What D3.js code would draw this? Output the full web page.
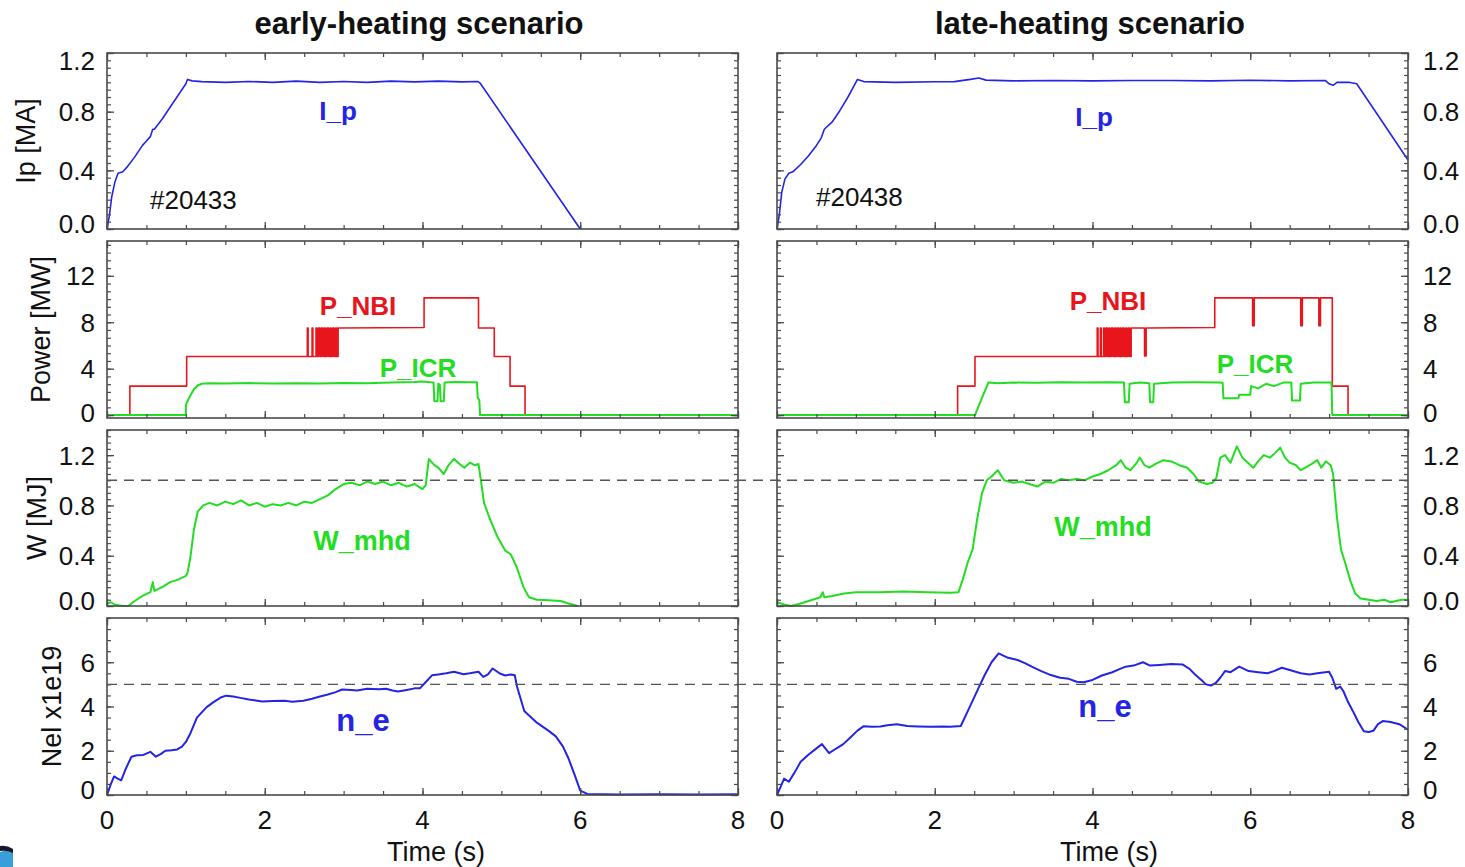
<!DOCTYPE html>
<html>
<head>
<meta charset="utf-8">
<script src="https://cdn.jsdelivr.net/npm/d3@7"></script>
<style>
  html, body { margin: 0; padding: 0; background: #fff; }
  svg { display: block; }
  text { font-family: "Liberation Sans", Arial, Helvetica, sans-serif; }
</style>
</head>
<body>
<svg id="chart" width="1465" height="867"></svg>
<script>
// ---- time base and tick labels ----
const timeDomain = [0, 8];
const timeTicks = [0, 2, 4, 6, 8];
const timeMinorStep = 0.5;

const ipTicks = [0, 0.4, 0.8, 1.2];
const powerTicks = [0, 4, 8, 12];
const wTicks = [0, 0.4, 0.8, 1.2];
const neTicks = [0, 2, 4, 6];

const scenarioTitles = ["early-heating scenario", "late-heating scenario"];
const shotNumbers = ["#20433", "#20438"];

// ---- plasma current [MA] ----
const ipEarly = [[0,0],[0.03,0.09],[0.06,0.22],[0.1,0.32],[0.14,0.38],[0.2,0.39],[0.25,0.42],[0.35,0.49],[0.45,0.57],[0.5,0.6],[0.55,0.63],[0.58,0.68],[0.6,0.68],[0.7,0.75],[0.8,0.83],[0.9,0.91],[1.0,0.99],[1.02,1.02],[1.08,1.01],[1.2,1.005],[1.5,1.0],[1.8,1.006],[2.1,1.0],[2.4,1.008],[2.7,1.0],[3.0,1.006],[3.3,1.0],[3.6,1.008],[3.9,1.003],[4.2,1.008],[4.5,1.003],[4.7,1.006],[4.73,0.995],[6.0,0.0]];
const ipLate = [[0,0],[0.03,0.1],[0.06,0.25],[0.1,0.34],[0.15,0.38],[0.2,0.39],[0.3,0.44],[0.4,0.5],[0.5,0.57],[0.56,0.62],[0.6,0.68],[0.7,0.73],[0.8,0.81],[0.9,0.9],[1.0,1.0],[1.02,1.02],[1.1,1.005],[1.5,1.0],[2.0,1.004],[2.25,1.005],[2.45,1.02],[2.56,1.03],[2.65,1.015],[3.0,1.01],[3.5,1.013],[4.0,1.01],[4.5,1.012],[5.0,1.013],[5.5,1.01],[6.0,1.014],[6.5,1.01],[6.95,1.013],[7.0,0.99],[7.05,0.98],[7.1,1.0],[7.25,1.0],[7.35,0.99],[8.0,0.47]];

// ---- heating power [MW] ----
const nbiEarly = [[0,0],[0.29,0],[0.29,2.5],[1.01,2.5],[1.01,5.05],[2.54,5.05],[2.54,7.5],[2.55,7.5],[2.55,5.05],[2.6,5.05],[2.6,7.5],[2.61,7.5],[2.61,5.05],[2.65,5.05],[2.65,7.5],[2.66,7.5],[2.66,5.05],[2.68,5.05],[2.68,7.5],[2.7,7.5],[2.7,5.05],[2.72,5.05],[2.72,7.5],[2.74,7.5],[2.74,5.05],[2.76,5.05],[2.76,7.5],[2.77,7.5],[2.77,5.05],[2.79,5.05],[2.79,7.5],[2.81,7.5],[2.81,5.05],[2.83,5.05],[2.83,7.5],[2.84,7.5],[2.84,5.05],[2.86,5.05],[2.86,7.5],[2.88,7.5],[2.88,5.05],[2.9,5.05],[2.9,7.5],[2.91,7.5],[2.91,5.05],[2.93,5.05],[2.93,7.5],[4.02,7.55],[4.02,10.1],[4.71,10.1],[4.71,7.5],[4.91,7.5],[4.91,5.05],[5.11,5.05],[5.11,2.5],[5.3,2.5],[5.3,0],[8,0]];
const icrEarly = [[0,0],[1.0,0],[1.0,0.9],[1.05,1.6],[1.1,2.2],[1.15,2.55],[1.2,2.7],[1.3,2.75],[1.5,2.72],[1.8,2.76],[2.1,2.72],[2.4,2.75],[2.7,2.73],[3.0,2.77],[3.3,2.75],[3.6,2.8],[3.9,2.85],[4.0,2.9],[4.1,2.82],[4.14,2.8],[4.15,1.2],[4.19,1.2],[4.2,2.7],[4.22,2.6],[4.23,1.2],[4.27,1.2],[4.28,2.8],[4.4,2.85],[4.6,2.82],[4.69,2.82],[4.7,1.5],[4.72,1.3],[4.73,0],[8,0]];
const nbiLate = [[0,0],[2.29,0],[2.29,2.5],[2.51,2.5],[2.51,5.05],[4.06,5.05],[4.06,7.5],[4.07,7.5],[4.07,5.05],[4.1,5.05],[4.1,7.5],[4.11,7.5],[4.11,5.05],[4.14,5.05],[4.14,7.5],[4.15,7.5],[4.15,5.05],[4.17,5.05],[4.17,7.5],[4.19,7.5],[4.19,5.05],[4.21,5.05],[4.21,7.5],[4.22,7.5],[4.22,5.05],[4.24,5.05],[4.24,7.5],[4.26,7.5],[4.26,5.05],[4.28,5.05],[4.28,7.5],[4.29,7.5],[4.29,5.05],[4.31,5.05],[4.31,7.5],[4.33,7.5],[4.33,5.05],[4.35,5.05],[4.35,7.5],[4.36,7.5],[4.36,5.05],[4.38,5.05],[4.38,7.5],[4.4,7.5],[4.4,5.05],[4.42,5.05],[4.42,7.5],[4.43,7.5],[4.43,5.05],[4.45,5.05],[4.45,7.5],[4.47,7.5],[4.47,5.05],[4.49,5.05],[4.49,7.5],[4.66,7.5],[4.66,5.1],[4.68,5.1],[4.68,7.5],[5.55,7.55],[5.55,10.1],[6.03,10.1],[6.03,7.7],[6.05,7.7],[6.05,10.1],[6.64,10.1],[6.64,7.7],[6.66,7.7],[6.66,10.1],[6.87,10.1],[6.87,7.7],[6.89,7.7],[6.89,10.1],[7.04,10.1],[7.04,2.5],[7.24,2.5],[7.24,0],[8,0]];
const icrLate = [[0,0],[2.51,0],[2.6,1.5],[2.68,2.8],[2.8,2.75],[3.0,2.8],[3.3,2.78],[3.6,2.82],[3.9,2.8],[4.2,2.82],[4.4,2.8],[4.41,1.1],[4.46,1.1],[4.47,2.7],[4.6,2.8],[4.72,2.75],[4.73,1.1],[4.77,1.1],[4.78,2.7],[5.0,2.8],[5.3,2.82],[5.6,2.8],[5.65,2.78],[5.66,1.45],[5.85,1.45],[5.86,1.75],[6.0,1.75],[6.01,2.5],[6.1,2.3],[6.2,2.7],[6.3,2.5],[6.42,2.8],[6.52,2.8],[6.53,1.25],[6.63,1.25],[6.64,2.7],[6.8,2.8],[7.03,2.8],[7.04,0],[8,0]];

// ---- stored energy [MJ] ----
const wEarly = [[0,0.02],[0.05,0.03],[0.1,0.01],[0.2,0.0],[0.27,0.0],[0.35,0.04],[0.45,0.08],[0.55,0.11],[0.58,0.19],[0.6,0.12],[0.7,0.15],[0.8,0.19],[0.9,0.21],[1.0,0.24],[1.02,0.26],[1.06,0.4],[1.1,0.6],[1.15,0.75],[1.22,0.8],[1.3,0.82],[1.4,0.8],[1.5,0.83],[1.6,0.81],[1.7,0.84],[1.8,0.8],[1.9,0.82],[2.0,0.79],[2.1,0.81],[2.2,0.8],[2.3,0.82],[2.4,0.8],[2.5,0.83],[2.6,0.82],[2.7,0.85],[2.8,0.88],[2.9,0.93],[3.0,0.97],[3.1,0.98],[3.2,0.96],[3.3,0.99],[3.4,0.97],[3.5,0.99],[3.6,0.96],[3.7,0.98],[3.8,0.95],[3.9,0.97],[4.0,0.93],[4.04,0.96],[4.08,1.17],[4.15,1.12],[4.2,1.1],[4.27,1.05],[4.33,1.12],[4.4,1.17],[4.47,1.13],[4.53,1.1],[4.6,1.14],[4.66,1.12],[4.71,1.13],[4.74,1.0],[4.78,0.82],[4.85,0.7],[4.95,0.55],[5.05,0.44],[5.12,0.41],[5.2,0.3],[5.28,0.15],[5.35,0.07],[5.45,0.05],[5.6,0.045],[5.75,0.04],[5.85,0.02],[5.97,0.0]];
const wLate = [[0,0.03],[0.1,0.01],[0.18,0.0],[0.3,0.02],[0.45,0.05],[0.55,0.07],[0.58,0.11],[0.6,0.07],[0.7,0.08],[0.85,0.1],[1.0,0.11],[1.3,0.11],[1.6,0.115],[1.9,0.11],[2.2,0.105],[2.3,0.11],[2.35,0.2],[2.42,0.35],[2.48,0.45],[2.54,0.7],[2.6,0.9],[2.66,1.0],[2.72,1.03],[2.8,1.08],[2.88,1.0],[3.0,0.98],[3.1,0.99],[3.2,0.97],[3.3,0.95],[3.4,0.99],[3.5,0.98],[3.6,1.01],[3.7,1.0],[3.8,1.01],[3.9,1.0],[4.0,1.03],[4.1,1.05],[4.2,1.08],[4.3,1.12],[4.36,1.16],[4.42,1.1],[4.48,1.08],[4.55,1.13],[4.6,1.18],[4.66,1.12],[4.72,1.1],[4.8,1.13],[4.9,1.16],[5.0,1.15],[5.1,1.12],[5.2,1.1],[5.28,1.05],[5.35,0.99],[5.45,0.97],[5.52,0.98],[5.57,1.02],[5.62,1.18],[5.68,1.2],[5.75,1.14],[5.83,1.27],[5.9,1.18],[5.97,1.14],[6.04,1.1],[6.1,1.15],[6.17,1.2],[6.25,1.18],[6.32,1.22],[6.38,1.26],[6.44,1.18],[6.5,1.14],[6.58,1.12],[6.64,1.08],[6.7,1.1],[6.78,1.13],[6.85,1.16],[6.9,1.1],[6.96,1.15],[7.02,1.12],[7.05,1.05],[7.1,0.7],[7.15,0.45],[7.2,0.35],[7.27,0.2],[7.33,0.1],[7.4,0.06],[7.5,0.05],[7.6,0.04],[7.7,0.05],[7.78,0.03],[7.85,0.04],[7.92,0.05],[8.0,0.05]];

// ---- line-integrated density [1e19] ----
const neEarly = [[0,0],[0.05,0.5],[0.09,0.84],[0.13,0.75],[0.18,0.66],[0.24,1.2],[0.31,1.73],[0.38,1.8],[0.46,1.81],[0.55,1.95],[0.62,1.73],[0.68,1.85],[0.74,2.0],[0.82,2.02],[0.89,2.06],[0.95,2.19],[1.0,2.4],[1.05,2.73],[1.14,3.5],[1.26,3.96],[1.35,4.2],[1.45,4.42],[1.51,4.49],[1.6,4.45],[1.69,4.39],[1.8,4.32],[1.97,4.23],[2.1,4.25],[2.25,4.26],[2.35,4.22],[2.49,4.26],[2.6,4.35],[2.7,4.45],[2.8,4.54],[2.9,4.65],[2.98,4.77],[3.1,4.75],[3.17,4.72],[3.3,4.8],[3.45,4.78],[3.54,4.8],[3.62,4.72],[3.69,4.68],[3.8,4.75],[3.9,4.82],[3.97,4.83],[4.03,5.06],[4.12,5.41],[4.2,5.45],[4.3,5.5],[4.4,5.57],[4.52,5.46],[4.6,5.5],[4.71,5.57],[4.77,5.34],[4.83,5.45],[4.89,5.72],[4.98,5.49],[5.05,5.4],[5.12,5.45],[5.17,5.41],[5.2,4.88],[5.29,3.8],[5.45,3.27],[5.6,2.9],[5.69,2.65],[5.78,2.2],[5.85,1.66],[5.93,0.9],[6.0,0.2],[6.09,0.05],[6.5,0.02],[7.0,0.03],[7.5,0.02],[8.0,0.03]];
const neLate = [[0,0],[0.05,0.4],[0.09,0.74],[0.15,0.6],[0.22,1.0],[0.3,1.5],[0.39,1.8],[0.48,2.05],[0.57,2.3],[0.66,1.89],[0.75,2.1],[0.84,2.3],[0.93,2.6],[1.02,2.91],[1.1,3.11],[1.2,3.08],[1.31,3.1],[1.4,3.15],[1.52,3.2],[1.65,3.12],[1.79,3.1],[1.95,3.08],[2.1,3.1],[2.2,3.08],[2.33,3.12],[2.45,4.03],[2.55,4.8],[2.63,5.4],[2.72,6.0],[2.81,6.4],[2.87,6.3],[2.93,6.2],[3.05,6.1],[3.15,5.95],[3.23,5.8],[3.35,5.6],[3.45,5.45],[3.59,5.3],[3.7,5.25],[3.8,5.12],[3.89,5.1],[4.0,5.2],[4.12,5.4],[4.25,5.55],[4.35,5.7],[4.42,5.8],[4.52,5.85],[4.64,6.0],[4.73,5.85],[4.85,5.88],[5.0,5.92],[5.14,5.9],[5.23,5.7],[5.3,5.45],[5.38,5.2],[5.44,5.0],[5.5,4.95],[5.56,5.05],[5.62,5.3],[5.68,5.6],[5.75,5.55],[5.86,5.8],[5.98,5.6],[6.1,5.55],[6.22,5.5],[6.3,5.6],[6.4,5.75],[6.5,5.65],[6.64,5.5],[6.75,5.45],[6.85,5.5],[7.0,5.57],[7.04,5.3],[7.09,4.8],[7.14,4.9],[7.18,4.7],[7.24,4.2],[7.3,3.8],[7.37,3.3],[7.44,2.88],[7.5,2.85],[7.56,2.9],[7.62,3.2],[7.68,3.34],[7.78,3.3],[7.89,3.2],[8.0,2.95]];

// reference levels drawn as dashed lines across both scenarios
const wReference = 1.0;
const neReference = 5;

// ---- layout ----
const BLUE = "#2424e6", RED = "#e8161c", GREEN = "#22dd22";
const FRAME = "#4a4a4a";

const columns = [
  { x0: 107, x1: 738, side: "left",  titleX: 419,  timeTitleX: 436 },
  { x0: 777, x1: 1408, side: "right", titleX: 1090, timeTitleX: 1109 }
];

const rows = [
  { y0: 53,  y1: 229, domain: [0, 1.2],    major: ipTicks,    minorStep: 0.05,  fmt: d3.format(".1f"), title: "Ip [MA]",    titleX: 25 },
  { y0: 241, y1: 418, domain: [-0.25, 15], major: powerTicks, minorStep: 4 / 6, fmt: d3.format("d"),   title: "Power [MW]", titleX: 40 },
  { y0: 430, y1: 606, domain: [0, 1.4],    major: wTicks,     minorStep: 0.05,  fmt: d3.format(".1f"), title: "W [MJ]",     titleX: 36 },
  { y0: 618, y1: 795, domain: [0, 8],      major: neTicks,    minorStep: 0.5,   fmt: d3.format("d"),   title: "Nel x1e19",  titleX: 51 }
];

// traces per [row][column]
const traces = [
  [[{ data: ipEarly, color: BLUE, w: 1.6 }], [{ data: ipLate, color: BLUE, w: 1.6 }]],
  [[{ data: nbiEarly, color: RED, w: 1.6 }, { data: icrEarly, color: GREEN, w: 2 }],
   [{ data: nbiLate, color: RED, w: 1.6 }, { data: icrLate, color: GREEN, w: 2 }]],
  [[{ data: wEarly, color: GREEN, w: 2 }], [{ data: wLate, color: GREEN, w: 2 }]],
  [[{ data: neEarly, color: BLUE, w: 2 }], [{ data: neLate, color: BLUE, w: 2 }]]
];

// in-plot signal names: [row][column] -> list
const signalLabels = [
  [[{ text: "I_p", color: BLUE, x: 338, y: 120, size: 26 }], [{ text: "I_p", color: BLUE, x: 1094, y: 126, size: 26 }]],
  [[{ text: "P_NBI", color: RED, x: 358, y: 315, size: 26 }, { text: "P_ICR", color: GREEN, x: 418, y: 377, size: 26 }],
   [{ text: "P_NBI", color: RED, x: 1108, y: 310, size: 26 }, { text: "P_ICR", color: GREEN, x: 1255, y: 373, size: 26 }]],
  [[{ text: "W_mhd", color: GREEN, x: 362, y: 550, size: 27 }], [{ text: "W_mhd", color: GREEN, x: 1103, y: 536, size: 27 }]],
  [[{ text: "n_e", color: BLUE, x: 363, y: 731, size: 31 }], [{ text: "n_e", color: BLUE, x: 1105, y: 717, size: 31 }]]
];

const svg = d3.select("#chart");
svg.append("rect").attr("width", 1465).attr("height", 867).attr("fill", "#fff");

const TICK_MAJOR = 7, TICK_MINOR = 4;

columns.forEach((col, ci) => {
  const x = d3.scaleLinear().domain(timeDomain).range([col.x0, col.x1]);
  const xMinor = d3.range(timeDomain[0], timeDomain[1] + 1e-9, timeMinorStep);

  rows.forEach((row, ri) => {
    const y = d3.scaleLinear().domain(row.domain).range([row.y1, row.y0]);
    const yMinor = d3.range(0, row.domain[1] + 1e-9, row.minorStep).filter(v => v >= row.domain[0]);
    const g = svg.append("g");

    // traces
    traces[ri][ci].forEach(tr => {
      g.append("path")
        .datum(tr.data)
        .attr("fill", "none")
        .attr("stroke", tr.color)
        .attr("stroke-width", tr.w)
        .attr("stroke-linejoin", "round")
        .attr("d", d3.line().x(d => x(d[0])).y(d => y(d[1])));
    });

    // inward ticks on all four sides
    const axes = [
      [d3.axisBottom(x), `translate(0,${row.y1})`, xMinor, timeTicks],
      [d3.axisTop(x), `translate(0,${row.y0})`, xMinor, timeTicks],
      [d3.axisLeft(y), `translate(${col.x0},0)`, yMinor, row.major],
      [d3.axisRight(y), `translate(${col.x1},0)`, yMinor, row.major]
    ];
    axes.forEach(([ax, tf, minor, major]) => {
      const gm = g.append("g").attr("transform", tf)
        .call(ax.tickValues(minor).tickSize(-TICK_MINOR).tickSizeOuter(0).tickFormat(""));
      gm.select(".domain").remove();
      gm.selectAll("line").attr("stroke", FRAME).attr("stroke-width", 1.2);
      const gM = g.append("g").attr("transform", tf)
        .call(ax.tickValues(major).tickSize(-TICK_MAJOR).tickSizeOuter(0).tickFormat(""));
      gM.select(".domain").remove();
      gM.selectAll("line").attr("stroke", FRAME).attr("stroke-width", 1.3);
    });

    // frame
    g.append("rect")
      .attr("x", col.x0).attr("y", row.y0)
      .attr("width", col.x1 - col.x0).attr("height", row.y1 - row.y0)
      .attr("fill", "none").attr("stroke", FRAME).attr("stroke-width", 1.6);

    // y tick labels (kept inside the panel height)
    row.major.forEach(v => {
      const ty = Math.min(Math.max(y(v), row.y0 + 8), row.y1 - 5);
      g.append("text")
        .attr("x", col.side === "left" ? col.x0 - 12 : col.x1 + 15)
        .attr("y", ty)
        .attr("dy", "0.36em")
        .attr("text-anchor", col.side === "left" ? "end" : "start")
        .attr("font-size", 26)
        .attr("fill", "#111")
        .text(row.fmt(v));
    });

    // y title (left column only)
    if (col.side === "left") {
      g.append("text")
        .attr("transform", `translate(${row.titleX},${(row.y0 + row.y1) / 2}) rotate(-90)`)
        .attr("dy", "0.36em")
        .attr("text-anchor", "middle")
        .attr("font-size", 27)
        .attr("fill", "#111")
        .text(row.title);
    }

    // signal names
    signalLabels[ri][ci].forEach(l => {
      g.append("text")
        .attr("x", l.x).attr("y", l.y)
        .attr("text-anchor", "middle")
        .attr("font-size", l.size)
        .attr("font-weight", "bold")
        .attr("fill", l.color)
        .text(l.text);
    });
  });

  // time labels under the bottom panel
  const bottom = rows[rows.length - 1].y1;
  timeTicks.forEach(v => {
    svg.append("text")
      .attr("x", x(v)).attr("y", bottom + 25)
      .attr("dy", "0.36em")
      .attr("text-anchor", "middle")
      .attr("font-size", 26)
      .attr("fill", "#111")
      .text(v);
  });
  svg.append("text")
    .attr("x", col.timeTitleX).attr("y", bottom + 66)
    .attr("text-anchor", "middle")
    .attr("font-size", 27)
    .attr("fill", "#111")
    .text("Time (s)");

  // scenario title and shot number
  svg.append("text")
    .attr("x", col.titleX).attr("y", 34)
    .attr("text-anchor", "middle")
    .attr("font-size", 31)
    .attr("font-weight", "bold")
    .attr("fill", "#111")
    .text(scenarioTitles[ci]);
  svg.append("text")
    .attr("x", ci === 0 ? 150 : 816).attr("y", ci === 0 ? 209 : 206)
    .attr("font-size", 26)
    .attr("fill", "#111")
    .text(shotNumbers[ci]);
});

// dashed reference levels spanning both scenarios
const xSpan = d3.scaleLinear().domain([0, 1]).range([columns[0].x0, columns[1].x1]);
[[2, wReference], [3, neReference]].forEach(([ri, v]) => {
  const row = rows[ri];
  const y = d3.scaleLinear().domain(row.domain).range([row.y1, row.y0]);
  svg.append("line")
    .attr("x1", xSpan(0)).attr("x2", xSpan(1))
    .attr("y1", y(v)).attr("y2", y(v))
    .attr("stroke", "#555").attr("stroke-width", 1.4)
    .attr("stroke-dasharray", "10,7");
});

// corner swoosh of the slide template
svg.append("path")
  .attr("d", "M0,852 Q7,849 13,852 L13,867 L0,867 Z")
  .attr("fill", "#3a9ed8");
svg.append("path")
  .attr("d", "M0,846 Q7,845 13,849 L13,853 Q7,850 0,851 Z")
  .attr("fill", "#151a2a");
</script>
</body>
</html>
